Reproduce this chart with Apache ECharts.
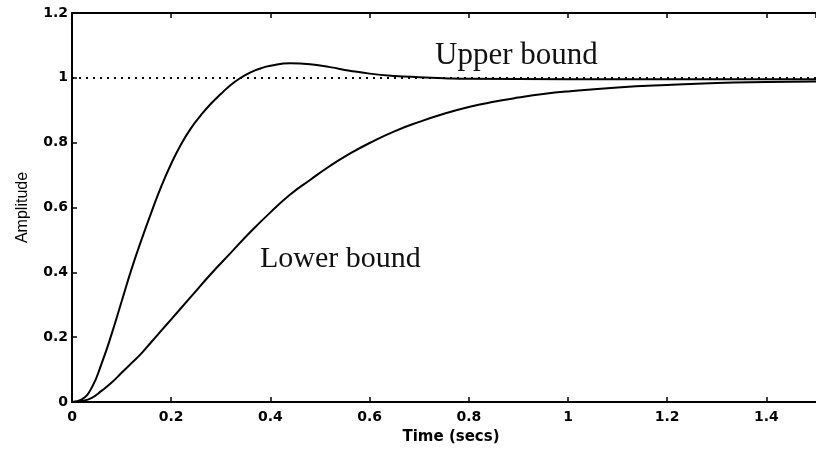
<!DOCTYPE html>
<html>
<head>
<meta charset="utf-8">
<script src="https://cdn.jsdelivr.net/npm/echarts@6/dist/echarts.min.js"></script>
<style>html,body{margin:0;padding:0;background:#fff;}#c{width:816px;height:450px;}</style>
</head>
<body>
<div id="c"></div>
<script>
// Upper bound step response (time in secs, amplitude)
var upperTime = [0, 0.02, 0.04, 0.06, 0.08, 0.10, 0.12, 0.14, 0.16, 0.18, 0.20, 0.22, 0.24, 0.26, 0.28, 0.30, 0.32, 0.34, 0.36, 0.38, 0.40, 0.44, 0.48, 0.52, 0.56, 0.60, 0.65, 0.70, 0.75, 0.80, 1.0, 1.5];
var upperAmp  = [0, 0.008, 0.045, 0.12, 0.21, 0.31, 0.41, 0.50, 0.585, 0.665, 0.735, 0.795, 0.845, 0.885, 0.92, 0.95, 0.978, 1.000, 1.017, 1.029, 1.037, 1.045, 1.042, 1.033, 1.022, 1.013, 1.006, 1.002, 0.999, 0.997, 0.996, 0.996];
// Lower bound step response
var lowerTime = [0, 0.02, 0.04, 0.06, 0.08, 0.10, 0.12, 0.14, 0.16, 0.18, 0.20, 0.24, 0.28, 0.32, 0.36, 0.40, 0.44, 0.48, 0.52, 0.56, 0.60, 0.65, 0.70, 0.75, 0.80, 0.85, 0.90, 0.95, 1.00, 1.10, 1.20, 1.30, 1.40, 1.50];
var lowerAmp  = [0, 0.003, 0.013, 0.035, 0.06, 0.09, 0.12, 0.15, 0.185, 0.22, 0.255, 0.325, 0.395, 0.46, 0.525, 0.585, 0.64, 0.685, 0.728, 0.766, 0.799, 0.835, 0.864, 0.889, 0.91, 0.926, 0.939, 0.95, 0.958, 0.970, 0.978, 0.984, 0.987, 0.989];
// Reference level
var referenceLevel = 1;
// Annotations
var upperLabel = 'Upper bound';
var lowerLabel = 'Lower bound';
var xTitle = 'Time (secs)';
var yTitle = 'Amplitude';

function pairs(t, a) { return t.map(function (v, i) { return [v, a[i]]; }); }

var chart = echarts.init(document.getElementById('c'), null, { renderer: 'canvas' });
var tickFont = { color: '#000', fontFamily: 'DejaVu Sans', fontWeight: 'bold', fontSize: 14 };
var axisLineStyle = { color: '#000', width: 2 };

chart.setOption({
  animation: false,
  backgroundColor: '#fff',
  grid: { left: 72, top: 13, width: 750, height: 394, containLabel: false },
  xAxis: [{
    type: 'value', min: 0, max: 1.5, interval: 0.2, position: 'bottom',
    name: xTitle, nameLocation: 'middle', nameGap: 28,
    nameTextStyle: { color: '#000', fontFamily: 'DejaVu Sans', fontWeight: 'bold', fontSize: 15, padding: [0, 0, 0, 14] },
    axisLine: { show: true, onZero: false, lineStyle: axisLineStyle },
    axisTick: { show: true, inside: true, length: 5, lineStyle: { color: '#000', width: 1.5 } },
    axisLabel: Object.assign({ margin: 8, showMaxLabel: false }, tickFont),
    splitLine: { show: false }
  }, {
    type: 'value', min: 0, max: 1.5, interval: 0.2, position: 'top',
    axisLine: { show: true, onZero: false, lineStyle: axisLineStyle },
    axisTick: { show: true, inside: true, length: 5, lineStyle: { color: '#000', width: 1.5 } },
    axisLabel: { show: false }, splitLine: { show: false }
  }],
  yAxis: [{
    type: 'value', min: 0, max: 1.2, interval: 0.2, position: 'left',
    name: yTitle, nameLocation: 'middle', nameGap: 41, nameRotate: 90,
    nameTextStyle: { color: '#000', fontFamily: 'Liberation Sans', fontSize: 16 },
    axisLine: { show: true, onZero: false, lineStyle: axisLineStyle },
    axisTick: { show: true, inside: true, length: 5, lineStyle: { color: '#000', width: 1.5 } },
    axisLabel: Object.assign({ margin: 4 }, tickFont),
    splitLine: { show: false }
  }],
  series: [{
    type: 'line', name: upperLabel, data: pairs(upperTime, upperAmp),
    smooth: 0.5, showSymbol: false, symbol: 'none',
    lineStyle: { color: '#000', width: 2 },
    markLine: {
      silent: true, symbol: 'none', label: { show: false },
      lineStyle: { color: '#000', type: [2, 5], width: 2 },
      data: [{ yAxis: referenceLevel }]
    },
    z: 3
  }, {
    type: 'line', name: lowerLabel, data: pairs(lowerTime, lowerAmp),
    smooth: 0.5, showSymbol: false, symbol: 'none',
    lineStyle: { color: '#000', width: 2 }, z: 3
  }],
  graphic: [{
    type: 'text', left: 435, top: 40,
    style: { text: upperLabel, fill: '#111', font: '31px "Liberation Serif"' }
  }, {
    type: 'text', left: 260, top: 244,
    style: { text: lowerLabel, fill: '#111', font: '30px "Liberation Serif"' }
  }]
});
</script>
</body>
</html>
